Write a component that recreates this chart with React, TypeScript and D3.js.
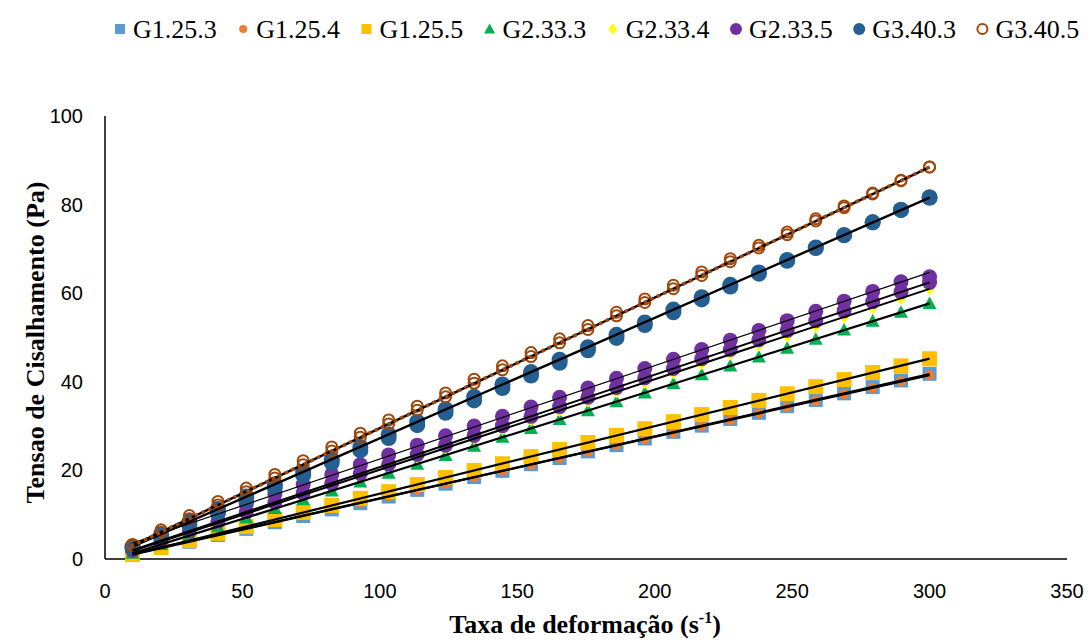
import React from "react";
import * as d3 from "d3";

const shearRate = [10, 20.4, 30.7, 41.1, 51.4, 61.8, 72.1, 82.5, 92.9, 103.2, 113.6, 123.9, 134.3, 144.6, 155, 165.4, 175.7, 186.1, 196.4, 206.8, 217.1, 227.5, 237.9, 248.2, 258.6, 268.9, 279.3, 289.6, 300];

const g1_25_3 = [1.0, 2.5, 3.9, 5.4, 6.8, 8.3, 9.7, 11.2, 12.6, 14.1, 15.6, 17.0, 18.5, 19.9, 21.4, 22.8, 24.3, 25.7, 27.2, 28.7, 30.1, 31.6, 33.0, 34.5, 35.9, 37.4, 38.8, 40.3, 41.8];
const g1_25_4 = [1.2, 2.6, 4.1, 5.5, 7.0, 8.4, 9.8, 11.3, 12.7, 14.1, 15.6, 17.0, 18.5, 19.9, 21.3, 22.8, 24.2, 25.7, 27.1, 28.5, 30.0, 31.4, 32.9, 34.3, 35.7, 37.2, 38.6, 40.1, 41.5];
const g1_25_5 = [1.0, 2.6, 4.2, 5.8, 7.3, 8.9, 10.5, 12.1, 13.7, 15.2, 16.8, 18.4, 20.0, 21.5, 23.1, 24.7, 26.3, 27.9, 29.4, 31.0, 32.6, 34.2, 35.8, 37.3, 38.9, 40.5, 42.1, 43.6, 45.2];
const g2_33_3 = [1.3, 3.3, 5.3, 7.3, 9.3, 11.4, 13.4, 15.4, 17.4, 19.4, 21.4, 23.4, 25.5, 27.5, 29.5, 31.5, 33.5, 35.5, 37.5, 39.6, 41.6, 43.6, 45.6, 47.6, 49.6, 51.7, 53.7, 55.7, 57.7];
const g2_33_4 = [1.8, 3.9, 6.0, 8.1, 10.2, 12.4, 14.5, 16.6, 18.7, 20.8, 22.9, 25.0, 27.2, 29.3, 31.4, 33.5, 35.6, 37.7, 39.8, 42.0, 44.1, 46.2, 48.3, 50.4, 52.5, 54.6, 56.7, 58.8, 61.0];
const g2_33_5a = [2.0, 4.2, 6.3, 8.5, 10.6, 12.8, 14.9, 17.1, 19.3, 21.4, 23.6, 25.7, 27.9, 30.1, 32.2, 34.4, 36.5, 38.7, 40.9, 43.0, 45.2, 47.3, 49.5, 51.6, 53.8, 56.0, 58.1, 60.3, 62.4];
const g2_33_5b = [2.6, 5.4, 7.8, 10.2, 12.4, 14.7, 16.8, 19.1, 21.3, 23.5, 25.7, 27.8, 30.0, 32.2, 34.3, 36.5, 38.6, 40.8, 43.0, 45.1, 47.3, 49.4, 51.6, 53.8, 55.9, 58.2, 60.4, 62.6, 63.7];
const g3_40_3a = [2.8, 5.6, 8.4, 11.3, 14.1, 16.9, 19.7, 22.5, 25.3, 28.1, 31.0, 33.8, 36.6, 39.4, 42.2, 45.0, 47.8, 50.6, 53.4, 56.3, 59.1, 61.9, 64.7, 67.5, 70.3, 73.1, 76.0, 78.8, 81.6];
const g3_40_3b = [2.5, 5.0, 7.7, 10.5, 13.3, 16.1, 18.9, 21.7, 24.5, 27.3, 30.2, 33.0, 35.8, 38.6, 41.4, 44.3, 47.1, 49.9, 52.8, 55.7, 58.6, 61.5, 64.4, 67.3, 70.2, 73.1, 76.0, 78.8, 81.6];
const g3_40_5a = [3.0, 6.1, 9.1, 12.2, 15.2, 18.3, 21.3, 24.4, 27.5, 30.5, 33.6, 36.6, 39.7, 42.7, 45.7, 48.8, 51.8, 54.9, 57.9, 61.0, 64.0, 67.1, 70.2, 73.2, 76.3, 79.3, 82.4, 85.4, 88.5];
const g3_40_5b = [3.3, 6.6, 9.8, 13.0, 16.0, 19.1, 22.2, 25.3, 28.4, 31.4, 34.5, 37.5, 40.6, 43.6, 46.6, 49.7, 52.7, 55.7, 58.7, 61.8, 64.8, 67.8, 70.8, 73.8, 76.8, 79.7, 82.6, 85.5, 88.5];

const xTicks = [0, 50, 100, 150, 200, 250, 300, 350];
const yTicks = [0, 20, 40, 60, 80, 100];

type Shape = "square" | "circle" | "triangle" | "diamond" | "ring";
interface SeriesDef { name: string | null; values: number[]; color: string; shape: Shape; size: number; lineW: number; dotted?: boolean; }

const seriesList: SeriesDef[] = [
  { name: "G1.25.3", values: g1_25_3, color: "#5B9BD5", shape: "square", size: 14, lineW: 2.2 },
  { name: "G1.25.4", values: g1_25_4, color: "#ED7D31", shape: "circle", size: 10, lineW: 2.2 },
  { name: "G1.25.5", values: g1_25_5, color: "#FFC000", shape: "square", size: 15, lineW: 2.2 },
  { name: "G2.33.3", values: g2_33_3, color: "#00B050", shape: "triangle", size: 14, lineW: 2.2 },
  { name: "G2.33.4", values: g2_33_4, color: "#FFFF00", shape: "diamond", size: 13, lineW: 2 },
  { name: "G2.33.5", values: g2_33_5a, color: "#7030A0", shape: "circle", size: 15, lineW: 2 },
  { name: null, values: g2_33_5b, color: "#7030A0", shape: "circle", size: 15, lineW: 1.2 },
  { name: "G3.40.3", values: g3_40_3a, color: "#255E91", shape: "circle", size: 16, lineW: 2.4 },
  { name: null, values: g3_40_3b, color: "#255E91", shape: "circle", size: 16, lineW: 0 },
  { name: "G3.40.5", values: g3_40_5a, color: "#9E480E", shape: "ring", size: 13, lineW: 2.4, dotted: true },
  { name: null, values: g3_40_5b, color: "#9E480E", shape: "ring", size: 13, lineW: 0 },
];

const W = 1088, H = 641;
const M = { left: 105, right: 1067, top: 116, bottom: 559 };
const SERIF = "Liberation Serif, Times New Roman, serif";
const SANS = "Liberation Sans, Arial, sans-serif";

function fit(xs: number[], ys: number[]) {
  const n = xs.length;
  const mx = d3.mean(xs)!, my = d3.mean(ys)!;
  let sxy = 0, sxx = 0;
  for (let i = 0; i < n; i++) { sxy += (xs[i] - mx) * (ys[i] - my); sxx += (xs[i] - mx) ** 2; }
  const b = sxy / sxx;
  return { b, a: my - b * mx };
}

function Marker({ shape, cx, cy, size, color }: { shape: Shape; cx: number; cy: number; size: number; color: string }) {
  const h = size / 2;
  if (shape === "square") return <rect x={cx - h} y={cy - h} width={size} height={size} fill={color} />;
  if (shape === "circle") return <circle cx={cx} cy={cy} r={h} fill={color} />;
  if (shape === "ring") return <circle cx={cx} cy={cy} r={h - 1} fill="none" stroke={color} strokeWidth={2} />;
  if (shape === "triangle") return <path d={`M${cx},${cy - h}L${cx + h},${cy + h * 0.8}L${cx - h},${cy + h * 0.8}Z`} fill={color} />;
  return <path d={`M${cx},${cy - h}L${cx + h * 0.8},${cy}L${cx},${cy + h}L${cx - h * 0.8},${cy}Z`} fill={color} />;
}

export default function App() {
  const x = d3.scaleLinear().domain([0, 350]).range([M.left, M.right]);
  const y = d3.scaleLinear().domain([0, 100]).range([M.bottom, M.top]);
  const line = d3.line<[number, number]>().x(d => x(d[0])).y(d => y(d[1]));
  const x0 = shearRate[0], x1 = shearRate[shearRate.length - 1];
  const legendItems = seriesList.filter(s => s.name);
  const legendX0 = 120, legendStep = 123.2, legendY = 29;

  return (
    <svg width={W} height={H} style={{ position: "absolute", left: 0, top: 0, background: "#fff" }}>
      {/* legend */}
      {legendItems.map((s, i) => {
        const cx = legendX0 + i * legendStep;
        const sz = s.shape === "square" ? 10 : s.shape === "circle" ? (s.color === "#ED7D31" ? 8 : 12) : s.shape === "ring" ? 12 : 11;
        return (
          <g key={s.name!}>
            <Marker shape={s.shape} cx={cx} cy={legendY} size={sz} color={s.color} />
            <text x={cx + 13} y={legendY + 9} fontFamily={SERIF} fontSize={26} fill="#000">{s.name}</text>
          </g>
        );
      })}

      {/* axes */}
      <line x1={M.left} x2={M.left} y1={M.top} y2={M.bottom} stroke="#000" strokeWidth={1.5} />
      <line x1={M.left} x2={M.right} y1={M.bottom} y2={M.bottom} stroke="#000" strokeWidth={1.5} />
      {yTicks.map(t => (
        <text key={t} x={83} y={y(t) + 7} textAnchor="end" fontFamily={SANS} fontSize={20} fill="#000">{t}</text>
      ))}
      {xTicks.map(t => (
        <text key={t} x={x(t)} y={598} textAnchor="middle" fontFamily={SANS} fontSize={20} fill="#000">{t}</text>
      ))}
      <text transform={`translate(44,${(M.top + M.bottom) / 2 + 5}) rotate(-90)`} textAnchor="middle" fontFamily={SERIF} fontWeight="bold" fontSize={26} fill="#000">Tensao de Cisalhamento (Pa)</text>
      <text x={585} y={633} textAnchor="middle" fontFamily={SERIF} fontWeight="bold" fontSize={26} fill="#000">
        Taxa de deformação (s<tspan dy={-10} fontSize={16}>-1</tspan><tspan dy={10}>)</tspan>
      </text>

      {/* markers */}
      {seriesList.map((s, si) => (
        <g key={si}>
          {s.values.map((v, i) => (
            <Marker key={i} shape={s.shape} cx={x(shearRate[i])} cy={y(v)} size={s.size} color={s.color} />
          ))}
        </g>
      ))}

      {/* trendlines */}
      {seriesList.map((s, si) => {
        if (!s.lineW) return null;
        const { a, b } = fit(shearRate, s.values);
        const pts: [number, number][] = [[x0, a + b * x0], [x1, a + b * x1]];
        return (
          <g key={"t" + si}>
            <path d={line(pts)!} stroke="#000" strokeWidth={s.lineW} fill="none" />
            {s.dotted && <path d={line(pts)!} stroke={s.color} strokeWidth={3.5} strokeDasharray="0.1 7" strokeLinecap="square" fill="none" />}
          </g>
        );
      })}
    </svg>
  );
}
